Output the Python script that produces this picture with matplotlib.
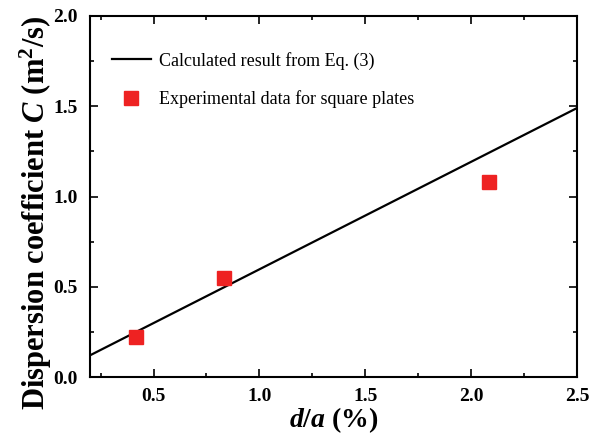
import numpy as np
import matplotlib
matplotlib.use("Agg")
import matplotlib.pyplot as plt
from matplotlib.ticker import MultipleLocator

plt.rcParams["font.family"] = ["Liberation Serif", "DejaVu Serif"]
plt.rcParams["mathtext.fontset"] = "custom"
plt.rcParams["mathtext.rm"] = "Liberation Serif:bold"
plt.rcParams["mathtext.it"] = "Liberation Serif:italic:bold"
plt.rcParams["mathtext.bf"] = "Liberation Serif:bold"

# calculated line from Eq. (3)
calc_x = [0.2, 2.5]
calc_y = [0.12, 1.49]

# experimental data for square plates
exp_x = [0.417, 0.833, 2.083]
exp_y = [0.22, 0.55, 1.08]

fig = plt.figure(figsize=(5.99, 4.46), dpi=100)
ax = fig.add_axes([90 / 599, 1 - 377 / 446, 487 / 599, 361 / 446])

ax.plot(calc_x, calc_y, color="black", lw=1.6,
        label="Calculated result from Eq. (3)")
ax.plot(exp_x, exp_y, ls="none", marker="s", ms=10, color="#ee2222",
        label="Experimental data for square plates")

ax.set_xlim(0.2, 2.5)
ax.set_ylim(0.0, 2.0)
ax.xaxis.set_major_locator(MultipleLocator(0.5))
ax.xaxis.set_minor_locator(MultipleLocator(0.25))
ax.yaxis.set_major_locator(MultipleLocator(0.5))
ax.yaxis.set_minor_locator(MultipleLocator(0.25))
ax.tick_params(which="both", direction="in", top=True, right=True, width=1.2)
ax.tick_params(which="major", length=6, labelsize=14)
ax.tick_params(which="minor", length=3)
ax.tick_params(axis="x", which="major", pad=8)
ax.tick_params(axis="y", which="major", pad=9)
for lab in ax.get_xticklabels() + ax.get_yticklabels():
    lab.set_fontweight("bold")
for sp in ax.spines.values():
    sp.set_linewidth(1.5)

ax.set_xlabel("$d/a$ (%)", fontsize=20, fontweight="bold")
ax.set_ylabel("Dispersion coefficient $C$ (m$^\\mathbf{2}$/s)", fontsize=22,
              fontweight="bold")
ax.xaxis.set_label_coords(0.5, (377 - 420) / 361)
ax.yaxis.set_label_coords((36 - 90) / 487, (377 - 213) / 361)
ax.xaxis.label.set_va("center")
ax.yaxis.label.set_va("center")

ax.legend(loc="upper left", bbox_to_anchor=(0.011, 0.946), frameon=False,
          fontsize=13, handlelength=2.2, labelspacing=1.15, handletextpad=0.4)

fig.savefig("out.png", dpi=100)
